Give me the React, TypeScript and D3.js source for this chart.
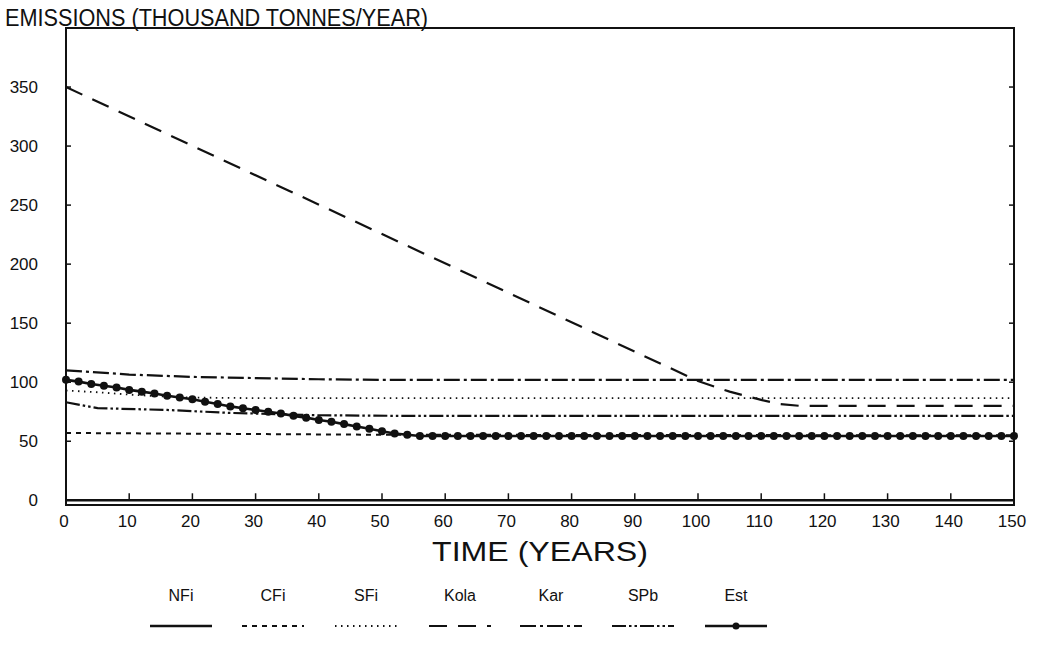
import React from "react";
import * as d3 from "d3";

// ---- data ----
const xTicks = [0, 10, 20, 30, 40, 50, 60, 70, 80, 90, 100, 110, 120, 130, 140, 150];
const yTicks = [0, 50, 100, 150, 200, 250, 300, 350];

const nfiYears = [0, 150];
const nfiValues = [0, 0];

const cfiYears = [0, 50, 150];
const cfiValues = [57, 55.5, 55];

const sfiYears = [0, 5, 10, 15, 20, 30, 150];
const sfiValues = [93, 91.5, 89.5, 88, 87, 86.5, 86.5];

const kolaYears = [0, 100, 105, 110, 113, 116, 150];
const kolaValues = [350, 101, 92, 85, 81.5, 80, 80];

const karYears = [0, 10, 20, 30, 40, 50, 150];
const karValues = [110, 106.5, 104.5, 103.5, 102.5, 102, 102];

const spbYears = [0, 5, 16, 26, 40, 53, 150];
const spbValues = [83, 78, 76.5, 74, 72, 71.5, 71.5];

const estYears = d3.range(0, 151, 2);
const estValues = [
  102, 100.5, 98.5, 97, 95.5, 93.5, 92, 90.5, 88.5, 87, 85.5, 83.5, 81.5, 79.5,
  78, 76.5, 75, 73.5, 71.5, 70, 68, 66.5, 64.5, 62.5, 60.5, 58.5, 56.5, 55.5,
  54.5, 54.5, 54.5, 54.5, 54.5, 54.5, 54.5, 54.5, 54.5, 54.5, 54.5, 54.5,
  54.5, 54.5, 54.5, 54.5, 54.5, 54.5, 54.5, 54.5, 54.5, 54.5, 54.5, 54.5,
  54.5, 54.5, 54.5, 54.5, 54.5, 54.5, 54.5, 54.5, 54.5, 54.5, 54.5, 54.5,
  54.5, 54.5, 54.5, 54.5, 54.5, 54.5, 54.5, 54.5, 54.5, 54.5, 54.5, 54.5,
];

const seriesNames = ["NFi", "CFi", "SFi", "Kola", "Kar", "SPb", "Est"];

const series = [
  { name: "NFi", years: nfiYears, values: nfiValues, dash: "none", width: 2.6 },
  { name: "CFi", years: cfiYears, values: cfiValues, dash: "5,5", width: 2 },
  { name: "SFi", years: sfiYears, values: sfiValues, dash: "1.5,4.5", width: 1.8 },
  { name: "Kola", years: kolaYears, values: kolaValues, dash: "18,11", width: 2.2 },
  { name: "Kar", years: karYears, values: karValues, dash: "16,4,3,4", width: 2.2 },
  { name: "SPb", years: spbYears, values: spbValues, dash: "14,3,2.5,3,2.5,3", width: 2.2 },
  { name: "Est", years: estYears, values: estValues, dash: "none", width: 2.6, marker: true },
];

const FONT = "'Liberation Sans', Arial, sans-serif";

export default function App() {
  const W = 1038;
  const H = 645;
  const left = 66;
  const right = 1014;
  const top = 28;
  const bottom = 505;

  const x = d3.scaleLinear().domain([0, 150]).range([left, right]);
  const y = d3.scaleLinear().domain([-4, 400]).range([bottom, top]);

  const line = d3
    .line<[number, number]>()
    .x((d) => x(d[0]))
    .y((d) => y(d[1]));

  const legendCenters = [181, 273, 366, 460, 551, 643, 736];
  const legendY = 626;

  return (
    <svg
      width={W}
      height={H}
      style={{ position: "absolute", left: 0, top: 0, background: "#fff" }}
      fontFamily={FONT}
    >
      <rect x={0} y={0} width={W} height={H} fill="#fff" />
      {/* title */}
      <text x={5} y={26} fontSize={23} textLength={423} lengthAdjust="spacingAndGlyphs" fill="#111">
        EMISSIONS (THOUSAND TONNES/YEAR)
      </text>

      {/* frame */}
      <rect x={left} y={top} width={right - left} height={bottom - top} fill="none" stroke="#111" strokeWidth={2} />

      {/* y ticks */}
      {yTicks.map((t) => (
        <g key={"y" + t}>
          <line x1={left} x2={left + 5} y1={y(t)} y2={y(t)} stroke="#111" strokeWidth={1.5} />
          <line x1={right} x2={right - 5} y1={y(t)} y2={y(t)} stroke="#111" strokeWidth={1.5} />
          <text x={38} y={y(t)} dy="0.35em" textAnchor="end" fontSize={17} fill="#111">
            {t}
          </text>
        </g>
      ))}

      {/* x ticks */}
      {xTicks.map((t) => (
        <g key={"x" + t}>
          <line x1={x(t)} x2={x(t)} y1={y(0)} y2={y(0) - 7} stroke="#111" strokeWidth={1.5} />
          <text x={x(t) - 2} y={527} textAnchor="middle" fontSize={17} fill="#111">
            {t}
          </text>
        </g>
      ))}

      <text x={540} y={561} textAnchor="middle" fontSize={28} textLength={216} lengthAdjust="spacingAndGlyphs" fill="#111">
        TIME (YEARS)
      </text>

      {/* series */}
      {series.map((s) => {
        const pts = s.years.map((yr, i) => [yr, s.values[i]] as [number, number]);
        return (
          <g key={s.name}>
            <path
              d={line(pts) || ""}
              fill="none"
              stroke="#111"
              strokeWidth={s.width}
              strokeDasharray={s.dash}
            />
            {s.marker &&
              pts.map((p, i) => (
                <circle key={i} cx={x(p[0])} cy={y(p[1])} r={4} fill="#111" />
              ))}
          </g>
        );
      })}

      {/* legend */}
      {series.map((s, i) => {
        const cx = legendCenters[i];
        return (
          <g key={"lg" + s.name}>
            <text x={cx} y={601} textAnchor="middle" fontSize={16} fill="#111">
              {seriesNames[i]}
            </text>
            <line
              x1={cx - 31}
              x2={cx + 31}
              y1={legendY}
              y2={legendY}
              stroke="#111"
              strokeWidth={s.width}
              strokeDasharray={s.dash}
            />
            {s.marker && <circle cx={cx} cy={legendY} r={3.5} fill="#111" />}
          </g>
        );
      })}
    </svg>
  );
}
